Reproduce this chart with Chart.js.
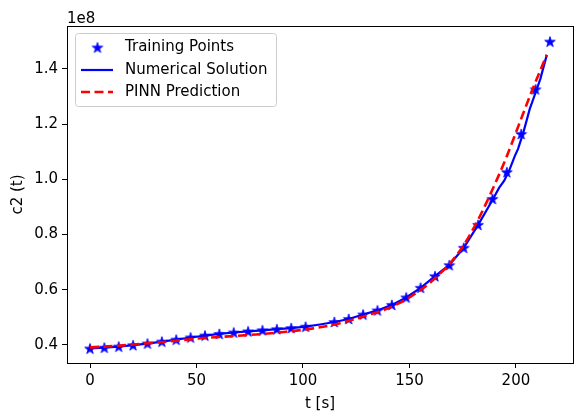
<!DOCTYPE html>
<html>
<head>
<meta charset="utf-8">
<script src="https://cdn.jsdelivr.net/npm/chart.js"></script>
<style>
  body { margin: 0; background: #fff; }
  canvas { display: block; }
</style>
</head>
<body>
<canvas id="chart" width="579" height="414"></canvas>
<script>
// values of c2 are in units of 1e8
const trainT = [0, 6.75, 13.5, 20.25, 27, 33.75, 40.5, 47.25, 54, 60.75, 67.5, 74.25, 81, 87.75, 94.5, 101.25,
  114.75, 121.5, 128.25, 135, 141.75, 148.5, 155.25, 162, 168.75, 175.5, 182.25, 189, 195.75, 202.5, 209.25, 216];
const trainC = [0.387, 0.390, 0.394, 0.399, 0.405, 0.412, 0.419, 0.427, 0.434, 0.440, 0.445, 0.449, 0.453, 0.457, 0.461, 0.466,
  0.483, 0.494, 0.510, 0.525, 0.545, 0.572, 0.607, 0.649, 0.689, 0.752, 0.835, 0.929, 1.026, 1.164, 1.326, 1.499];

const numT = [0, 6.75, 13.5, 20.25, 27, 33.75, 40.5, 47.25, 54, 60.75, 67.5, 74.25, 81, 87.75, 94.5, 101.25, 108,
  114.75, 121.5, 128.25, 135, 141.75, 148.5, 155.25, 162, 168.75, 175.5, 182.25, 189, 192, 194.5, 197, 199.5, 201,
  203.5, 206.5, 209.5, 211.5, 214.5];
const numC = [0.387, 0.390, 0.394, 0.399, 0.405, 0.412, 0.419, 0.427, 0.434, 0.440, 0.445, 0.449, 0.453, 0.457, 0.461, 0.466, 0.474,
  0.483, 0.494, 0.510, 0.525, 0.545, 0.572, 0.607, 0.649, 0.690, 0.752, 0.835, 0.925, 0.968, 0.995, 1.035, 1.085, 1.110,
  1.170, 1.255, 1.320, 1.365, 1.451];

const pinnT = [0, 13, 26, 39, 52, 65, 78, 91, 104, 117, 130, 143, 156, 162.5, 169, 175.5, 182, 188.5, 195, 201.5, 208, 214.5];
const pinnC = [0.391, 0.397, 0.405, 0.414, 0.424, 0.431, 0.438, 0.447, 0.459, 0.478, 0.507, 0.543, 0.603, 0.645, 0.695, 0.762, 0.850, 0.955, 1.070, 1.200, 1.330, 1.451];

const xTicks = [0, 50, 100, 150, 200];
const yTicks = [0.4, 0.6, 0.8, 1.0, 1.2, 1.4];
const labels = ['Training Points', 'Numerical Solution', 'PINN Prediction'];

const FONT = "'DejaVu Sans'";
const FS = 15;

function toXY(xs, ys) {
  return xs.map((x, i) => ({ x: x, y: ys[i] }));
}

// filled 5-point star like matplotlib '*'
function makeStar(r, color) {
  const c = document.createElement('canvas');
  const s = Math.ceil(r * 2 + 2);
  c.width = s; c.height = s;
  const g = c.getContext('2d');
  g.fillStyle = color;
  g.strokeStyle = color;
  g.lineWidth = 0.8;
  g.lineJoin = 'round';
  g.beginPath();
  for (let i = 0; i < 10; i++) {
    const rad = i % 2 === 0 ? r : r * 0.382;
    const a = -Math.PI / 2 + i * Math.PI / 5;
    const px = s / 2 + rad * Math.cos(a), py = s / 2 + 0.5 + rad * Math.sin(a);
    if (i === 0) g.moveTo(px, py); else g.lineTo(px, py);
  }
  g.closePath();
  g.fill();
  g.stroke();
  return c;
}
const star = makeStar(5.6, '#0000ff');

const framePlugin = {
  id: 'frame',
  afterDraw(chart) {
    const { ctx, chartArea: a } = chart;
    ctx.save();
    ctx.strokeStyle = '#000';
    ctx.lineWidth = 1;
    ctx.strokeRect(Math.round(a.left) + 0.5, Math.round(a.top) + 0.5, Math.round(a.right - a.left), Math.round(a.bottom - a.top));

    // offset text
    ctx.fillStyle = '#000';
    ctx.font = FS + 'px ' + FONT;
    ctx.textAlign = 'left';
    ctx.textBaseline = 'alphabetic';
    ctx.fillText('1e8', a.left, 22.5);

    // legend box
    const bx = 75.5, by = 33.5, bw = 201, bh = 73, r = 3;
    ctx.fillStyle = 'rgba(255,255,255,0.8)';
    ctx.strokeStyle = '#cccccc';
    ctx.beginPath();
    ctx.roundRect(bx, by, bw, bh, r);
    ctx.fill();
    ctx.stroke();

    const rows = [47.5, 70, 92];
    ctx.drawImage(star, 97.5 - star.width / 2, rows[0] - star.height / 2);

    ctx.lineWidth = 2.2;
    ctx.strokeStyle = '#0000ff';
    ctx.beginPath();
    ctx.moveTo(81, rows[1]); ctx.lineTo(113, rows[1]);
    ctx.stroke();

    ctx.lineWidth = 2.6;
    ctx.strokeStyle = '#ff0000';
    ctx.setLineDash([9, 4.5]);
    ctx.beginPath();
    ctx.moveTo(81, rows[2]); ctx.lineTo(113, rows[2]);
    ctx.stroke();
    ctx.setLineDash([]);

    ctx.fillStyle = '#000';
    ctx.textBaseline = 'middle';
    labels.forEach((t, i) => ctx.fillText(t, 125, rows[i]));
    ctx.restore();
  }
};

new Chart(document.getElementById('chart'), {
  type: 'scatter',
  data: {
    datasets: [
      {
        label: labels[0],
        data: toXY(trainT, trainC),
        pointStyle: star,
        pointRadius: 5,
        showLine: false,
        order: 3
      },
      {
        label: labels[1],
        data: toXY(numT, numC),
        showLine: true,
        borderColor: '#0000ff',
        borderWidth: 2.2,
        pointRadius: 0,
        tension: 0,
        order: 2
      },
      {
        label: labels[2],
        data: toXY(pinnT, pinnC),
        showLine: true,
        borderColor: '#ff0000',
        borderWidth: 2.6,
        borderDash: [9, 4.5],
        pointRadius: 0,
        cubicInterpolationMode: 'monotone',
        order: 1
      }
    ]
  },
  options: {
    responsive: false,
    animation: false,
    devicePixelRatio: 1,
    layout: { padding: { top: 26, right: 2, left: 0, bottom: 0 } },
    plugins: {
      legend: { display: false },
      tooltip: { enabled: false }
    },
    scales: {
      x: {
        type: 'linear',
        min: -10.8,
        max: 226.8,
        afterBuildTicks: s => { s.ticks = xTicks.map(v => ({ value: v })); },
        afterFit: s => { s.height = 51; },
        border: { display: false },
        grid: { drawOnChartArea: false, drawTicks: true, tickLength: 5, tickColor: '#000', color: '#000' },
        ticks: { color: '#000', padding: 4, maxRotation: 0, font: { family: FONT, size: FS } },
        title: { display: true, text: 't [s]', color: '#000', padding: { top: 0, bottom: 1 }, font: { family: FONT, size: FS } }
      },
      y: {
        type: 'linear',
        min: 0.3345,
        max: 1.5555,
        afterBuildTicks: s => { s.ticks = yTicks.map(v => ({ value: v })); },
        afterFit: s => { s.width = 67; },
        border: { display: false },
        grid: { drawOnChartArea: false, drawTicks: true, tickLength: 5, tickColor: '#000', color: '#000' },
        ticks: { color: '#000', padding: 4, font: { family: FONT, size: FS }, callback: v => v.toFixed(1) },
        title: { display: true, text: 'c2 (t)', color: '#000', padding: { top: 9, bottom: 0 }, font: { family: FONT, size: FS } }
      }
    }
  },
  plugins: [framePlugin]
});
</script>
</body>
</html>
